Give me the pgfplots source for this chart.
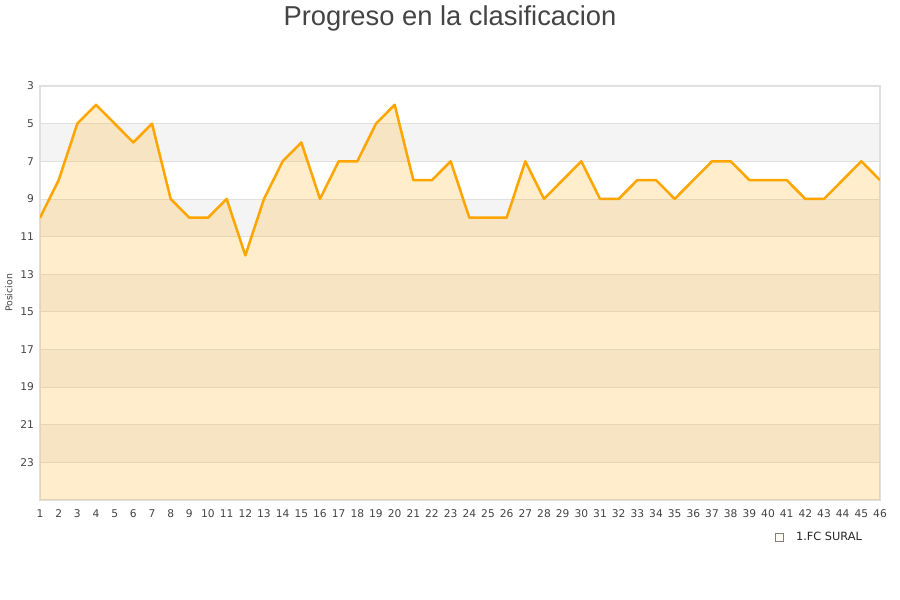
\documentclass[border=0pt]{standalone}
\usepackage{fontspec}
\setmainfont{DejaVu Sans}
\newfontfamily\titlefont{Liberation Sans}
\usepackage{pgfplots}
\pgfplotsset{compat=1.18}
\usepackage{pgfplotstable}
\usepgfplotslibrary{fillbetween}

\definecolor{lineorange}{HTML}{FFA500}
\definecolor{bandgray}{HTML}{F4F4F4}
\definecolor{gridgray}{HTML}{E0E0E0}
\definecolor{txt}{HTML}{444444}

% jornada, posicion
\pgfplotstableread{
j pos
1 10
2 8
3 5
4 4
5 5
6 6
7 5
8 9
9 10
10 10
11 9
12 12
13 9
14 7
15 6
16 9
17 7
18 7
19 5
20 4
21 8
22 8
23 7
24 10
25 10
26 10
27 7
28 9
29 8
30 7
31 9
32 9
33 8
34 8
35 9
36 8
37 7
38 7
39 8
40 8
41 8
42 9
43 9
44 8
45 7
46 8
}\progreso

\begin{document}
\begin{tikzpicture}
\begin{axis}[
  set layers=standard,
  scale only axis,
  width=630pt, height=310.5pt,
  xmin=1, xmax=46,
  ymin=3, ymax=25,
  y dir=reverse,
  xtick={1,...,46},
  ytick={3,5,...,23},
  tick style={draw=none},
  ymajorgrids,
  grid style={gridgray, line width=0.6pt},
  axis line style={gridgray, line width=0.8pt},
  ticklabel style={font=\fontsize{8}{9}\selectfont, text=txt},
  /pgf/number format/assume math mode=true,
  xticklabel style={yshift=-4pt},
  yticklabel style={xshift=-1pt},
  ylabel={Posicion},
  ylabel style={font=\fontsize{7}{8}\selectfont, text=txt, yshift=-1pt},
  legend style={at={(0.870,-0.089)}, anchor=west, draw=none, fill=none,
    font=\fontsize{8.5}{10}\selectfont, text=black!85},
  legend cell align=left,
]
\begin{pgfonlayer}{axis background}
\fill[bandgray] (axis cs:1,5) rectangle (axis cs:46,7);
\fill[bandgray] (axis cs:1,9) rectangle (axis cs:46,11);
\fill[bandgray] (axis cs:1,13) rectangle (axis cs:46,15);
\fill[bandgray] (axis cs:1,17) rectangle (axis cs:46,19);
\fill[bandgray] (axis cs:1,21) rectangle (axis cs:46,23);
\end{pgfonlayer}

\addplot[name path=serie, draw=none, forget plot] table[x=j, y=pos] {\progreso};
\path[name path=fondo] (axis cs:1,25) -- (axis cs:46,25);
\addplot[fill=lineorange, fill opacity=0.2, draw=none,
  legend image code/.code={\draw[fill=lineorange!25, draw=black!50, line width=0.5pt] (0pt,-3pt) rectangle (6pt,3pt); \path (13.5pt,0pt);}]
  fill between[of=serie and fondo];
\addlegendentry{1.FC SURAL}
\addplot[lineorange, line width=1.9pt, line join=round, forget plot] table[x=j, y=pos] {\progreso};
\end{axis}
\node[font=\titlefont\fontsize{20.5}{24}\selectfont, text=txt] at (307.5pt,361.5pt) {Progreso en la clasificacion};
\pgfresetboundingbox
\useasboundingbox (-30pt,-75pt) rectangle (645pt,375pt);
\end{tikzpicture}
\end{document}
